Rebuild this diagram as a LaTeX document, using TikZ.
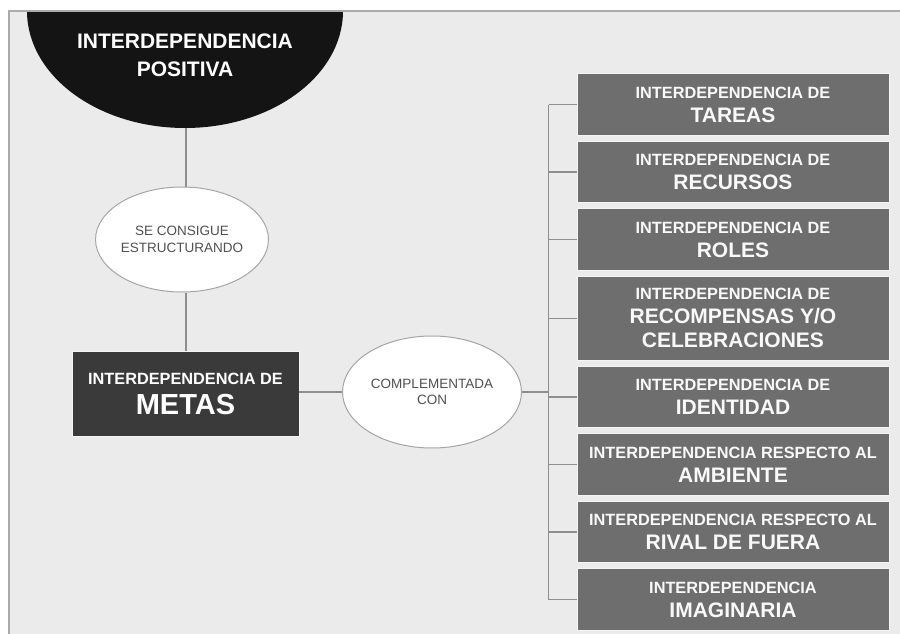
\documentclass[tikz,border=0pt]{standalone}
\usepackage{fontspec}
\setmainfont{Liberation Sans}
\usetikzlibrary{positioning,shapes.geometric}

\definecolor{fondo}{HTML}{EBEBEB}
\definecolor{marco}{HTML}{ABABAB}
\definecolor{negro}{HTML}{141414}
\definecolor{oscuro}{HTML}{3A3A3A}
\definecolor{caja}{HTML}{6E6E6F}
\definecolor{linea}{HTML}{8E8E8E}
\definecolor{letra}{HTML}{505050}

\newcommand{\chica}{\fontsize{16.3}{19}\selectfont}
\newcommand{\grande}{\fontsize{21}{24}\selectfont}
\newcommand{\elip}{\fontsize{13.5}{16.5}\selectfont}

\begin{document}
\begin{tikzpicture}[x=1pt, y=-1pt, node distance=5pt]
  \useasboundingbox (0,0) rectangle (900,634);
  \fill[fondo] (9,11) rectangle (900,634);
  \begin{scope}
    \clip (9,11) rectangle (900,634);
    \fill[negro] (185,11) ellipse [x radius=158, y radius=117];
  \end{scope}
  \draw[marco, line width=2.5] (9,634) -- (9,11) -- (900,11);

  \tikzset{eje/.style={ellipse, draw=linea!80, fill=white, line width=1, inner sep=0, text=letra, font=\elip, align=center}}
  \tikzset{meta_box/.style={rectangle, fill=oscuro, draw=white!92!gray, text=white, font=\bfseries\fontsize{29}{30}\selectfont, align=center, inner sep=0}}
  \tikzset{tipo_box/.style={rectangle, fill=caja, draw=white!92!gray, line width=1, text=white!95!gray, font=\bfseries\grande, align=center, inner sep=0, minimum width=312, minimum height=61.5}}

  \node[text=white, font=\bfseries\fontsize{21}{28}\selectfont, align=center] (positiva) at (185,55) {INTERDEPENDENCIA\\POSITIVA};
  \coordinate (pos_base) at (186,128);
  \node[eje, minimum width=164, minimum height=105] (consigue) at (182,239.5) {SE CONSIGUE\\ESTRUCTURANDO};
  \node[meta_box, minimum width=227, minimum height=85] (metas) at (185.5,393.5) {\chica INTERDEPENDENCIA DE\\METAS};
  \node[eje, minimum width=179, minimum height=112] (complementada) at (432,392) {COMPLEMENTADA\\CON};

  \node[tipo_box] (1) at (733,104.5) {\chica INTERDEPENDENCIA DE\\TAREAS};
  \node[tipo_box] (2) [below=of 1] {\chica INTERDEPENDENCIA DE\\RECURSOS};
  \node[tipo_box] (3) [below=of 2] {\chica INTERDEPENDENCIA DE\\ROLES};
  \node[tipo_box, minimum height=84] (4) [below=of 3] {\chica INTERDEPENDENCIA DE\\RECOMPENSAS Y/O\\CELEBRACIONES};
  \node[tipo_box] (5) [below=of 4] {\chica INTERDEPENDENCIA DE\\IDENTIDAD};
  \node[tipo_box] (6) [below=of 5] {\chica INTERDEPENDENCIA RESPECTO AL\\AMBIENTE};
  \node[tipo_box] (7) [below=of 6] {\chica INTERDEPENDENCIA RESPECTO AL\\RIVAL DE FUERA};
  \node[tipo_box] (8) [below=of 7] {\chica INTERDEPENDENCIA\\IMAGINARIA};

  \tikzset{enlace/.style={draw=linea, line width=1.5}}

  \path (pos_base) edge [enlace] (pos_base |- consigue.north);
  \path (pos_base |- consigue.south) edge [enlace] (pos_base |- metas.north);
  \path (metas.east |- complementada) edge [enlace] (complementada);
  \coordinate[left=28pt of 1.west] (bus_top);
  \coordinate[left=28pt of 8.west] (bus_bot);
  \path (bus_top) edge [enlace] (bus_bot);
  \path (complementada) edge [enlace] (complementada -| bus_top);
  \foreach \n in {1,...,8}
    \path (\n.west) edge [enlace] ++(-28,0);
\end{tikzpicture}
\end{document}
